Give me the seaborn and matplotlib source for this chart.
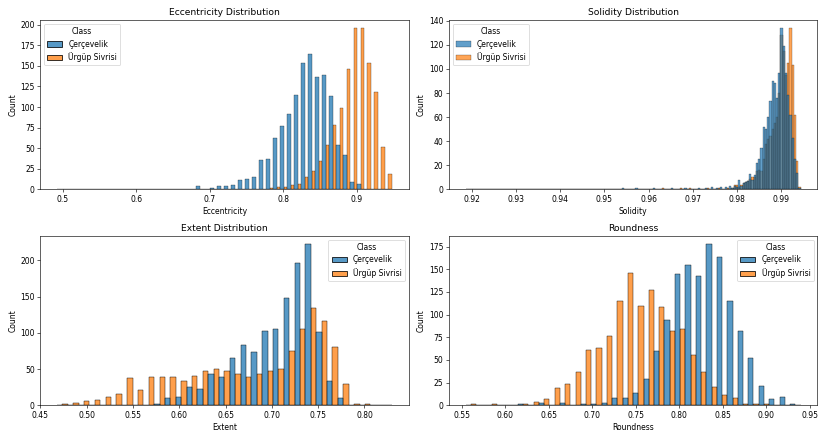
import numpy as np
import pandas as pd
import matplotlib
matplotlib.use("Agg")
import matplotlib.pyplot as plt
import seaborn as sns

classes = ["Çerçevelik", "Ürgüp Sivrisi"]

# ---- Eccentricity: 48 bins over [0.4921, 0.9481]
ecc_range = (0.4921, 0.9481)
ecc_nbins = 48
ecc_cer = [1, 0, 0, 0, 0, 0, 0, 0, 0, 0,
           0, 0, 0, 0, 0, 0, 0, 1, 0, 0,
           4, 1, 2, 4, 4, 5, 12, 13, 15, 36,
           37, 62, 77, 92, 115, 153, 164, 137, 139, 114,
           54, 42, 9, 7, 1, 0, 1, 0]
ecc_urg = [0, 0, 0, 0, 0, 0, 0, 0, 0, 0,
           0, 0, 0, 0, 0, 0, 0, 0, 0, 0,
           0, 0, 0, 0, 0, 0, 0, 1, 1, 1,
           2, 3, 3, 5, 7, 15, 22, 35, 54, 78,
           99, 146, 196, 196, 154, 118, 52, 19]

# ---- Solidity: 150 bins over [0.9186, 0.9944]
sol_range = (0.9186, 0.9944)
sol_nbins = 150
sol_cer = [0] * 70 + [
    1, 0, 0, 0, 0, 0, 1, 0, 0, 0,
    0, 0, 0, 0, 1, 0, 0, 0, 0, 0,
    0, 0, 1, 0, 0, 0, 0, 0, 1, 0,
    0, 0, 0, 0, 1, 0, 0, 1, 0, 0,
    2, 0, 1, 0, 2, 0, 2, 0, 3, 1,
    3, 2, 8, 3, 5, 6, 7, 13, 8, 12,
    22, 25, 34, 52, 50, 60, 73, 90, 88, 76,
    97, 134, 119, 97, 78, 62, 43, 25, 14, 1]
sol_urg = [0] * 70 + [
    0, 0, 0, 0, 0, 0, 0, 0, 0, 0,
    0, 0, 0, 0, 0, 0, 0, 0, 1, 0,
    0, 0, 0, 0, 0, 0, 1, 0, 0, 0,
    1, 0, 0, 0, 0, 0, 0, 0, 1, 0,
    0, 0, 0, 1, 0, 0, 0, 1, 0, 1,
    4, 4, 2, 4, 5, 6, 7, 9, 10, 10,
    15, 16, 15, 25, 38, 42, 44, 50, 55, 60,
    80, 128, 115, 95, 105, 134, 103, 62, 24, 2]

# ---- Extent: 31 bins over [0.468, 0.8296]
ext_range = (0.468, 0.8296)
ext_nbins = 31
ext_cer = [0, 0, 0, 1, 0, 0, 1, 0, 1, 2,
           10, 11, 25, 22, 43, 39, 65, 83, 74, 103,
           106, 148, 196, 223, 101, 33, 10, 0, 0, 0, 1]
ext_urg = [2, 3, 6, 7, 12, 15, 38, 21, 39, 39,
           39, 33, 40, 47, 50, 47, 43, 39, 43, 47,
           50, 75, 106, 135, 116, 80, 29, 2, 2, 0, 0]

# ---- Roundness: 32 bins over [0.5546, 0.9396]
rnd_range = (0.5546, 0.9396)
rnd_nbins = 32
rnd_cer = [0, 0, 0, 0, 0, 1, 0, 3, 0, 3,
           0, 1, 1, 3, 8, 8, 14, 29, 60, 94,
           145, 155, 143, 178, 163, 115, 82, 52, 21, 7, 9, 1]
rnd_urg = [1, 0, 1, 0, 0, 1, 4, 7, 19, 23,
           37, 61, 63, 76, 115, 146, 109, 127, 108, 82,
           84, 55, 37, 20, 11, 8, 2, 1, 2, 0, 0, 0]

panels = [
    ("Eccentricity", "Eccentricity Distribution", ecc_range, ecc_nbins, ecc_cer, ecc_urg),
    ("Solidity", "Solidity Distribution", sol_range, sol_nbins, sol_cer, sol_urg),
    ("Extent", "Extent Distribution", ext_range, ext_nbins, ext_cer, ext_urg),
    ("Roundness", "Roundness", rnd_range, rnd_nbins, rnd_cer, rnd_urg),
]

fig, axes = plt.subplots(2, 2, figsize=(828 / 55, 440 / 55), dpi=55)

for ax, (var, title, rng, nb, cer, urg) in zip(axes.flat, panels):
    edges = np.linspace(rng[0], rng[1], nb + 1)
    centers = (edges[:-1] + edges[1:]) / 2
    df = pd.DataFrame({
        var: np.concatenate([centers, centers]),
        "Count": np.concatenate([cer, urg]).astype(float),
        "Class": [classes[0]] * nb + [classes[1]] * nb,
    })
    if var == "Solidity":
        sns.histplot(data=df, x=var, hue="Class", weights="Count",
                     bins=[float(e) for e in edges], multiple="layer",
                     alpha=0.7, linewidth=0.3, hue_order=classes, ax=ax)
    else:
        sns.histplot(data=df, x=var, hue="Class", weights="Count",
                     bins=[float(e) for e in edges],
                     multiple="dodge", hue_order=classes, ax=ax)
    ax.set_title(title)
    ax.set_ylabel("Count")

plt.tight_layout()
fig.savefig("out.png", dpi=55)
